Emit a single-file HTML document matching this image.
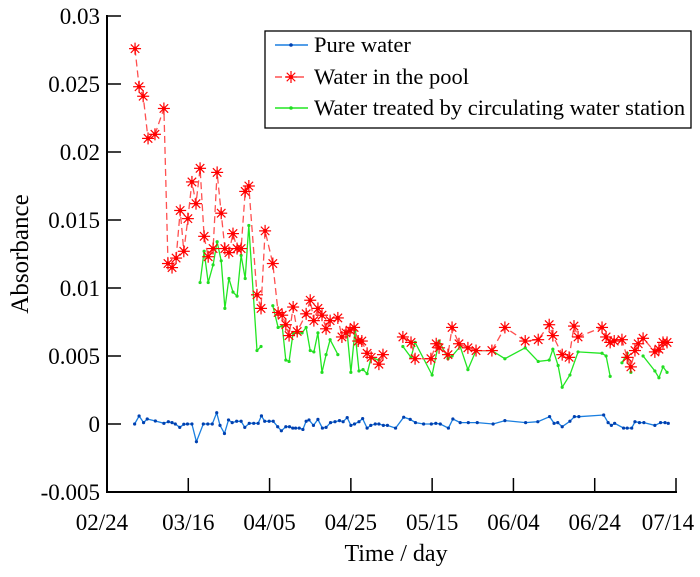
<!DOCTYPE html>
<html><head><meta charset="utf-8"><style>
html,body{margin:0;padding:0;background:#fff;}
svg text{font-family:"Liberation Serif",serif;fill:#000;}
</style></head><body>
<svg id="chart" width="700" height="572" viewBox="0 0 700 572" xmlns="http://www.w3.org/2000/svg">
<g id="plot"></g>
<g id="axes"></g>
<g id="legend"></g>
</svg>
<script>
// ---- data (x = days since 02/24, y = absorbance) ----
const xTickLabels = ["02/24","03/16","04/05","04/25","05/15","06/04","06/24","07/14"];
const xTickDays = [0,20,40,60,80,100,120,140];
const yTickValues = [-0.005,0,0.005,0.01,0.015,0.02,0.025,0.03];
const yTickLabels = ["-0.005","0","0.005","0.01","0.015","0.02","0.025","0.03"];

const pureDays = [6.8,7.9,9.0,9.9,11.9,14.0,15.1,16.0,16.8,17.9,18.9,19.8,20.9,22.0,23.7,24.8,25.9,27.0,27.8,28.9,29.9,30.8,31.9,33.0,33.9,35.0,36.1,37.2,38.0,38.8,39.9,40.9,42.0,42.9,44.0,44.9,45.7,46.4,47.3,48.2,49.0,49.7,50.8,51.9,53.0,53.9,55.0,56.1,57.2,58.1,59.1,60.0,60.9,62.0,62.9,64.0,64.9,66.0,66.9,68.0,69.0,71.0,73.0,74.6,75.9,77.9,79.8,80.9,82.0,84.0,85.1,86.9,88.9,91.1,95.0,97.9,103.0,106.0,108.9,110.0,110.9,112.0,113.9,115.0,116.1,122.2,123.3,124.1,124.9,127.1,128.0,129.1,129.9,131.0,132.1,134.8,136.2,137.3,138.1];
const pureValues = [0,0.00059,0.0001,0.00037,0.00022,0.00005,0.00017,0.0001,0,-0.00025,-0.00002,0,0,-0.0013,0,0,0,0.00083,-0.0001,-0.0007,0.0003,0.0001,0.0002,0.0002,-0.00025,0.00005,0.00005,0.00005,0.0006,0.0002,0.0002,0.0002,-0.0002,-0.0005,-0.0002,-0.0002,-0.0003,-0.0003,-0.0003,-0.0004,0.0002,0.0003,-0.0001,0.00034,-0.0003,-0.00025,0.0001,0.00017,0.00025,0.00017,0.00047,-0.0001,0,0.00017,0.0004,-0.0003,-0.0001,0,0,-0.0001,-0.0001,-0.0003,0.0005,0.00034,0.0001,0,0,0.00005,0,-0.0003,0.00037,0.0001,0.0001,0.0001,0,0.00025,0.0001,0.00017,0.00054,0.00005,0.0001,-0.0002,0.0002,0.00054,0.00054,0.00066,0.0001,-0.0001,0.00005,-0.0003,-0.0003,-0.0003,0.00017,0.0001,0.0001,-0.0001,0.0001,0.0001,0.00005];

const poolDays = [6.9,7.9,8.9,10.1,11.8,14.0,15.0,16.0,17.0,18.0,18.9,19.9,20.9,21.9,22.9,23.9,24.9,26.1,27.1,28.1,29.0,30.0,31.0,32.0,33.0,34.0,34.9,36.9,37.9,38.9,40.8,42.1,43.1,44.0,44.8,45.8,46.8,49.0,50.0,50.9,51.9,52.9,53.9,54.9,56.8,57.8,58.8,59.8,60.8,61.8,62.7,64.0,65.0,66.9,67.9,null,72.8,74.8,75.8,79.7,81.0,81.7,83.9,84.9,86.6,88.8,90.8,94.7,97.9,102.9,106.1,108.8,109.7,112.0,113.7,114.9,115.9,121.8,122.8,123.8,124.8,126.7,128.0,128.9,129.9,130.7,131.9,134.8,135.8,136.8,137.8];
const poolValues = [0.0276,0.0248,0.0241,0.0210,0.0213,0.0232,0.0118,0.0115,0.0122,0.0157,0.0127,0.0151,0.0178,0.0162,0.0188,0.0138,0.0123,0.0129,0.0185,0.0155,0.0129,0.0126,0.0140,0.0129,0.0129,0.0171,0.0175,0.0095,0.0085,0.0142,0.0118,0.0082,0.0080,0.0073,0.0065,0.0086,0.0068,0.0081,0.0091,0.0076,0.0085,0.0080,0.0070,0.0076,0.0078,0.0064,0.0067,0.0069,0.0071,0.0061,0.0061,0.0052,0.0049,0.0044,0.0051,null,0.0064,0.0060,0.0048,0.0048,0.0059,0.0056,0.0051,0.0071,0.0059,0.0056,0.0054,0.0054,0.0071,0.0061,0.0062,0.0073,0.0065,0.0051,0.0049,0.0072,0.0064,0.0071,0.0064,0.0060,0.0061,0.0062,0.0049,0.0042,0.0054,0.0059,0.0063,0.0053,0.0055,0.0060,0.0060];

const treatedDays = [22.9,23.9,24.9,26.1,27.1,28.1,29.0,30.0,31.0,32.0,33.0,34.0,34.9,36.9,37.9,null,40.8,42.1,43.1,44.0,44.8,45.8,46.8,48.0,49.0,50.0,50.9,51.9,52.9,53.9,54.9,56.8,null,59.1,60.0,61.0,62.0,63.0,64.0,65.0,66.9,null,72.8,74.8,75.8,80.0,81.7,83.9,84.9,86.9,88.8,90.8,94.7,97.9,102.9,106.1,108.8,109.7,111.0,112.0,113.9,115.9,121.8,122.8,123.8,null,126.7,128.0,128.9,null,131.9,134.8,135.8,136.8,137.8];
const treatedValues = [0.0104,0.0127,0.0104,0.0117,0.0134,0.0120,0.0085,0.0107,0.0097,0.0094,0.0124,0.0107,0.0146,0.0054,0.0057,null,0.0087,0.0071,0.0072,0.0047,0.0046,0.0067,0.0067,0.0067,0.0071,0.0054,0.0053,0.0067,0.0038,0.0051,0.0062,0.0051,null,0.0067,0.0038,0.0068,0.0039,0.0040,0.0037,0.0049,0.0047,null,0.0057,0.0049,0.0060,0.0036,0.0061,0.0048,0.0050,0.0057,0.0040,0.0054,0.0054,0.0048,0.0056,0.0046,0.0047,0.0055,0.0043,0.0027,0.0036,0.0053,0.0052,0.0050,0.0035,null,0.0045,0.0052,0.0038,null,0.0050,0.0039,0.0034,0.0042,0.0038];

// ---- axis functions ----
const X0=107, X1=676, Y0=492, Y1=16;
const xMin=0, xMax=140, yMin=-0.005, yMax=0.03;
function xs(d){return X0+(d-xMin)/(xMax-xMin)*(X1-X0);}
function ys(v){return Y0-(v-yMin)/(yMax-yMin)*(Y0-Y1);}
const NS="http://www.w3.org/2000/svg";
function mk(tag,attrs,parent){const e=document.createElementNS(NS,tag);for(const k in attrs)e.setAttribute(k,attrs[k]);parent.appendChild(e);return e;}

const plot=document.getElementById('plot');
const axes=document.getElementById('axes');
const legend=document.getElementById('legend');

function segments(days,vals){
  const segs=[];let cur=[];
  for(let i=0;i<days.length;i++){
    if(days[i]===null||vals[i]===null){if(cur.length)segs.push(cur);cur=[];continue;}
    cur.push([xs(days[i]),ys(vals[i])]);
  }
  if(cur.length)segs.push(cur);return segs;
}
function drawLine(days,vals,stroke,dash,name){
  segments(days,vals).forEach(s=>{
    const p=mk('polyline',{points:s.map(q=>q[0].toFixed(1)+','+q[1].toFixed(1)).join(' '),fill:'none',stroke:stroke,'stroke-width':1.3},plot);
    if(dash)p.setAttribute('stroke-dasharray',dash);
    
    
  });
}
function dot(x,y,c,r,name,parent){
  const e=mk('circle',{cx:x,cy:y,r:r,fill:c},parent);
  
  
}
function star(x,y,name,parent){
  const g=mk('g',{stroke:'#ff0000','stroke-width':1.2},parent);
  
  
  const r=6;
  for(let a=0;a<4;a++){const t=a*Math.PI/4;mk('line',{x1:x-r*Math.cos(t),y1:y-r*Math.sin(t),x2:x+r*Math.cos(t),y2:y+r*Math.sin(t)},g);}
  mk('circle',{cx:x,cy:y,r:2,fill:'#ff0000',stroke:'none'},g);
}

// series
drawLine(treatedDays,treatedValues,'#22e622',null,'treated-water-line');
treatedDays.forEach((d,i)=>{if(d!==null)dot(xs(d),ys(treatedValues[i]),'#22dd22',1.6,'treated-water-point',plot);});
drawLine(poolDays,poolValues,'#ff5050','7,4','pool-water-line');
poolDays.forEach((d,i)=>{if(d!==null)star(xs(d),ys(poolValues[i]),'pool-water-point',plot);});
drawLine(pureDays,pureValues,'#1a7fe0',null,'pure-water-line');
pureDays.forEach((d,i)=>{dot(xs(d),ys(pureValues[i]),'#0040b0',1.6,'pure-water-point',plot);});

// axes
const la=mk('line',{x1:X0,y1:Y1-1,x2:X0,y2:Y0+1,stroke:'#000','stroke-width':2},axes);

const ba=mk('line',{x1:X0-1,y1:Y0,x2:X1+1,y2:Y0,stroke:'#000','stroke-width':2},axes);

yTickValues.forEach((v,i)=>{
  const y=ys(v);
  if(i>0)mk('line',{x1:X0,y1:y,x2:X0+14,y2:y,stroke:'#000','stroke-width':1.5},axes);
  const t=mk('text',{x:X0-7,y:y+8,'text-anchor':'end','font-size':23},axes);
  t.textContent=yTickLabels[i];
  
  
});
xTickDays.forEach((d,i)=>{
  const x=xs(d);
  if(i>0)mk('line',{x1:x,y1:Y0,x2:x,y2:Y0-14,stroke:'#000','stroke-width':1.5},axes);
  let lx=x; if(i==0)lx=x-5; if(i==xTickDays.length-1)lx=x-8;
  const t=mk('text',{x:lx,y:Y0+38,'text-anchor':'middle','font-size':23},axes);
  t.textContent=xTickLabels[i];
  
  
});
const xt=mk('text',{x:396,y:561,'text-anchor':'middle','font-size':24},axes);
xt.textContent='Time / day';


const yt=mk('text',{x:0,y:0,'text-anchor':'middle','font-size':25,transform:'translate(28,254) rotate(-90)'},axes);
yt.textContent='Absorbance';



// legend
const box=mk('rect',{x:265,y:31,width:426,height:97,fill:'#fff',stroke:'#000','stroke-width':1.3},legend);

const entries=[['Pure water',45,'pure'],['Water in the pool',77,'pool'],['Water treated by circulating water station',108,'treated']];
entries.forEach(e=>{
  const y=e[1];
  if(e[2]==='pure'){mk('line',{x1:275,y1:y,x2:308,y2:y,stroke:'#1a7fe0','stroke-width':1.5},legend);dot(291,y,'#0040b0',1.8,'legend-pure-marker',legend);}
  if(e[2]==='pool'){mk('line',{x1:275,y1:y,x2:308,y2:y,stroke:'#ff5050','stroke-width':1.5,'stroke-dasharray':'7,4'},legend);star(291,y,'legend-pool-marker',legend);}
  if(e[2]==='treated'){mk('line',{x1:275,y1:y,x2:308,y2:y,stroke:'#22e622','stroke-width':1.5},legend);dot(291,y,'#22dd22',1.8,'legend-treated-marker',legend);}
  const t=mk('text',{x:314,y:y+7,'font-size':22.5},legend);
  t.textContent=e[0];
  
  
});
</script>
</body></html>
